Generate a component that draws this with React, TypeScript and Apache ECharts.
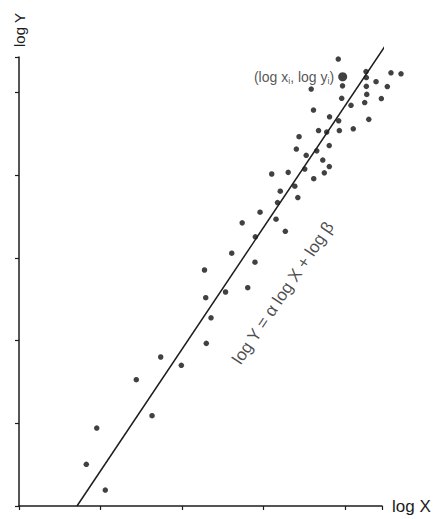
import React, { useEffect, useRef } from "react";
import * as echarts from "echarts";

// Observed points (log x, log y), in axis units (one tick = 1)
const logX = [
  3.914, 4.254, 4.56, 4.683, 4.258, 4.377, 3.966, 4.258, 4.515, 3.582,
  4.263, 3.956, 4.442, 4.238, 4.07, 3.61, 3.807, 4.288, 3.919, 4.098,
  3.927, 3.672, 3.772, 3.433, 3.803, 3.4, 3.65, 3.521, 3.724, 3.804,
  3.503, 3.098, 3.3, 3.743, 3.613, 3.381, 3.203, 3.418, 3.169, 2.955,
  3.151, 2.736, 3.265, 2.897, 2.608, 2.893, 2.274, 2.532, 2.804, 2.289,
  2.354, 2.296, 1.737, 1.99, 1.438, 1.631, 0.953, 0.825, 1.058,
];
const logY = [
  5.405, 5.254, 5.239, 5.227, 5.181, 5.131, 5.081, 5.075, 5.073, 5.042,
  4.978, 4.93, 4.927, 4.879, 4.846, 4.788, 4.707, 4.676, 4.658, 4.562,
  4.541, 4.541, 4.522, 4.466, 4.359, 4.317, 4.295, 4.241, 4.184, 4.105,
  4.075, 4.015, 4.035, 4.029, 3.958, 3.867, 3.807, 3.73, 3.67, 3.553,
  3.468, 3.424, 3.322, 3.255, 3.057, 2.948, 2.854, 2.588, 2.64, 2.519,
  2.276, 1.967, 1.802, 1.701, 1.527, 1.092, 0.943, 0.504, 0.193,
];
// highlighted point (log x_i, log y_i)
const highlightX = [3.968];
const highlightY = [5.191];
// fitted line endpoints
const fitX = [0.711, 4.487];
const fitY = [0, 5.562];
// position of the line's equation label
const eqX = [3.237];
const eqY = [2.576];

const FONT = "'Liberation Sans', Arial, Helvetica, sans-serif";
const INK = "#1c1c1c";

export default function App() {
  const ref = useRef<HTMLDivElement>(null);
  useEffect(() => {
    if (!ref.current) return;
    const chart = echarts.init(ref.current, undefined, { renderer: "svg" });
    const pts = logX.map((x, i) => [x, logY[i]]);
    chart.setOption({
      animation: false,
      backgroundColor: "#fff",
      grid: { left: 19, right: 53, top: 57, bottom: 13 },
      xAxis: {
        type: "value",
        min: 0,
        max: 4.45,
        interval: 1,
        name: "log X",
        nameLocation: "end",
        nameGap: 10,
        nameTextStyle: { color: INK, fontSize: 17, fontFamily: FONT },
        axisLine: { lineStyle: { color: INK, width: 1.5 } },
        axisTick: { show: true, length: 4, lineStyle: { color: INK, width: 1.2 } },
        axisLabel: { show: false },
        splitLine: { show: false },
      },
      yAxis: {
        type: "value",
        min: 0,
        max: 5.43,
        interval: 1,
        name: "log Y",
        nameLocation: "end",
        nameRotate: 90,
        nameGap: 10,
        nameTextStyle: { color: INK, fontSize: 15, fontFamily: FONT },
        axisLine: { lineStyle: { color: INK, width: 1.5 } },
        axisTick: { show: true, length: 4, lineStyle: { color: INK, width: 1.2 } },
        axisLabel: { show: false },
        splitLine: { show: false },
      },
      series: [
        {
          type: "line",
          data: fitX.map((x, i) => [x, fitY[i]]),
          symbol: "none",
          clip: false,
          lineStyle: { color: INK, width: 1.5 },
          silent: true,
        },
        {
          type: "scatter",
          data: pts,
          symbol: "circle",
          symbolSize: 5.5,
          clip: false,
          itemStyle: { color: "#111" },
        },
        {
          type: "scatter",
          data: highlightX.map((x, i) => [x, highlightY[i]]),
          symbol: "circle",
          symbolSize: 9,
          clip: false,
          itemStyle: { color: "#111" },
          label: {
            show: true,
            position: "left",
            distance: 4,
            formatter: "{n|(log x}{s|i}{n|, log y}{s|i}{n|)}",
            rich: {
              n: { fontSize: 14, fontFamily: FONT, color: "#2a2a2a", lineHeight: 18, verticalAlign: "middle" },
              s: { fontSize: 9, fontFamily: FONT, color: "#2a2a2a", lineHeight: 9, verticalAlign: "bottom" },
            },
          },
        },
        {
          type: "scatter",
          data: eqX.map((x, i) => [x, eqY[i]]),
          symbolSize: 0,
          clip: false,
          silent: true,
          label: {
            show: true,
            position: "inside",
            rotate: 56,
            formatter: "log Y = α log X + log β",
            fontSize: 17,
            fontFamily: FONT,
            color: INK,
          },
        },
      ],
    });
    return () => chart.dispose();
  }, []);
  return (
    <div
      ref={ref}
      style={{ position: "fixed", left: 0, top: 0, width: 435, height: 519 }}
    />
  );
}
